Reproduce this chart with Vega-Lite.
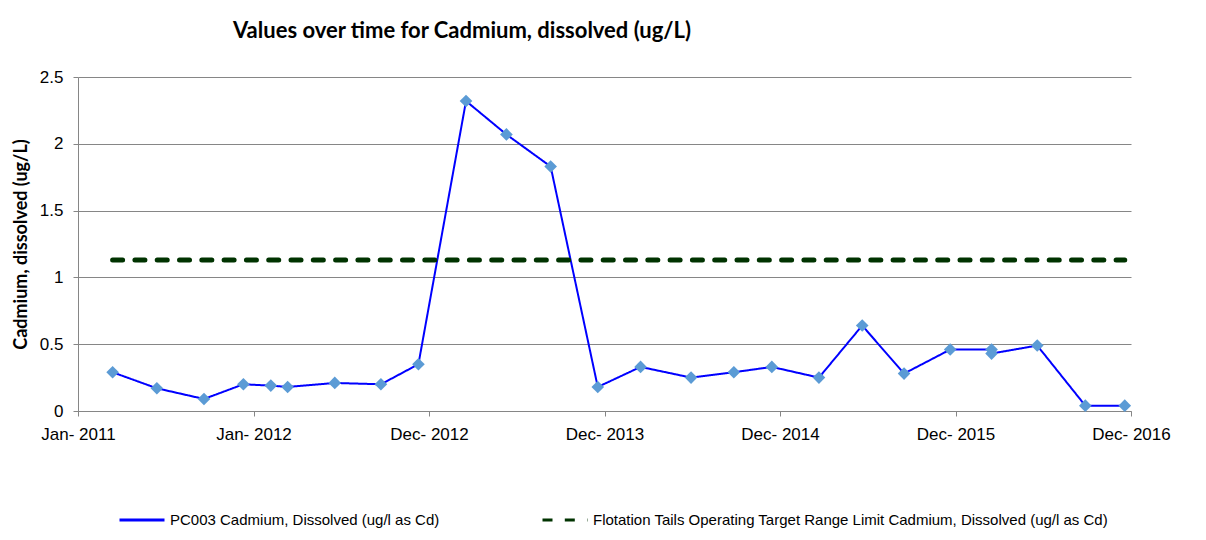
{
  "$schema": "https://vega.github.io/schema/vega-lite/v6.json",
  "width": 1053,
  "height": 334,
  "autosize": "none",
  "padding": {"left": 78, "top": 77, "right": 75, "bottom": 129},
  "background": "white",
  "title": {
    "text": "Values over time for Cadmium, dissolved (ug/L)",
    "font": "Lato",
    "fontSize": 22,
    "fontWeight": "bold",
    "color": "black",
    "anchor": "start",
    "frame": "group",
    "dx": 155,
    "offset": 25
  },
  "data": {
    "values": [
      {"date": "2011-03-14", "pc003": 0.29, "limit": 1.13},
      {"date": "2011-06-14", "pc003": 0.17, "limit": 1.13},
      {"date": "2011-09-20", "pc003": 0.09, "limit": 1.13},
      {"date": "2011-12-11", "pc003": 0.2, "limit": 1.13},
      {"date": "2012-02-06", "pc003": 0.19, "limit": 1.13},
      {"date": "2012-03-12", "pc003": 0.18, "limit": 1.13},
      {"date": "2012-06-18", "pc003": 0.21, "limit": 1.13},
      {"date": "2012-09-22", "pc003": 0.2, "limit": 1.13},
      {"date": "2012-12-09", "pc003": 0.35, "limit": 1.13},
      {"date": "2013-03-18", "pc003": 2.32, "limit": 1.13},
      {"date": "2013-06-10", "pc003": 2.07, "limit": 1.13},
      {"date": "2013-09-10", "pc003": 1.83, "limit": 1.13},
      {"date": "2013-12-17", "pc003": 0.18, "limit": 1.13},
      {"date": "2014-03-16", "pc003": 0.33, "limit": 1.13},
      {"date": "2014-06-29", "pc003": 0.25, "limit": 1.13},
      {"date": "2014-09-26", "pc003": 0.29, "limit": 1.13},
      {"date": "2014-12-14", "pc003": 0.33, "limit": 1.13},
      {"date": "2015-03-22", "pc003": 0.25, "limit": 1.13},
      {"date": "2015-06-20", "pc003": 0.64, "limit": 1.13},
      {"date": "2015-09-15", "pc003": 0.28, "limit": 1.13},
      {"date": "2015-12-20", "pc003": 0.46, "limit": 1.13},
      {"date": "2016-03-15", "pc003": 0.46, "limit": 1.13},
      {"date": "2016-03-15", "pc003": 0.43, "limit": 1.13},
      {"date": "2016-06-18", "pc003": 0.49, "limit": 1.13},
      {"date": "2016-09-26", "pc003": 0.04, "limit": 1.13},
      {"date": "2016-12-17", "pc003": 0.04, "limit": 1.13}
    ]
  },
  "encoding": {
    "x": {
      "field": "date",
      "type": "temporal",
      "scale": {
        "type": "utc",
        "nice": false,
        "domain": [
          {"year": 2011, "month": 1, "date": 1, "utc": true},
          {"year": 2016, "month": 12, "date": 30, "utc": true}
        ]
      },
      "axis": {
        "title": null,
        "grid": false,
        "format": "%b- %Y",
        "values": [
          {"year": 2011, "month": 1, "date": 1, "utc": true},
          {"year": 2012, "month": 1, "date": 1, "utc": true},
          {"year": 2012, "month": 12, "date": 31, "utc": true},
          {"year": 2013, "month": 12, "date": 31, "utc": true},
          {"year": 2014, "month": 12, "date": 31, "utc": true},
          {"year": 2015, "month": 12, "date": 31, "utc": true},
          {"year": 2016, "month": 12, "date": 30, "utc": true}
        ],
        "labelFont": "Liberation Sans",
        "labelFontSize": 17,
        "labelColor": "black",
        "labelPadding": 10,
        "labelOverlap": false,
        "labelFlush": false,
        "tickSize": 5,
        "tickColor": "#868686",
        "domainColor": "#868686"
      }
    }
  },
  "layer": [
    {
      "mark": {"type": "line", "strokeWidth": 2, "strokeCap": "round"},
      "encoding": {
        "y": {
          "field": "pc003",
          "type": "quantitative",
          "scale": {"domain": [0, 2.5], "nice": false},
          "axis": {
            "title": "Cadmium, dissolved (ug/L)",
            "titleFont": "Lato",
            "titleFontSize": 18,
            "titleFontWeight": "bold",
            "titleColor": "black",
            "titlePadding": 9,
            "values": [0, 0.5, 1, 1.5, 2, 2.5],
            "format": "~g",
            "labelFont": "Liberation Sans",
            "labelFontSize": 17,
            "labelColor": "black",
            "labelPadding": 10,
            "tickSize": 5,
            "tickColor": "#868686",
            "domainColor": "#868686",
            "grid": true,
            "gridColor": "#868686",
            "gridOpacity": 1
          }
        },
        "color": {
          "datum": "PC003 Cadmium, Dissolved (ug/l as Cd)",
          "scale": {
            "domain": [
              "PC003 Cadmium, Dissolved (ug/l as Cd)",
              "Flotation Tails Operating Target Range Limit Cadmium, Dissolved (ug/l as Cd)"
            ],
            "range": ["#0000ff", "#003300"]
          },
          "legend": {
            "orient": "none",
            "legendX": 40,
            "legendY": 419,
            "direction": "horizontal",
            "columns": 2,
            "title": null,
            "symbolSize": 2025,
            "symbolStrokeWidth": 3,
            "labelFont": "Liberation Sans",
            "labelFontSize": 15,
            "labelColor": "black",
            "labelOffset": 4,
            "labelLimit": 0,
            "columnPadding": 96
          }
        },
        "strokeDash": {
          "datum": "PC003 Cadmium, Dissolved (ug/l as Cd)",
          "scale": {
            "domain": [
              "PC003 Cadmium, Dissolved (ug/l as Cd)",
              "Flotation Tails Operating Target Range Limit Cadmium, Dissolved (ug/l as Cd)"
            ],
            "range": [[1, 0], [10, 12.3]]
          }
        }
      }
    },
    {
      "mark": {"type": "point", "shape": "diamond", "filled": true, "fill": "#5b9bd5", "size": 160, "opacity": 1, "strokeWidth": 0},
      "encoding": {
        "y": {"field": "pc003", "type": "quantitative"}
      }
    },
    {
      "mark": {"type": "line", "strokeWidth": 5, "strokeCap": "round"},
      "encoding": {
        "y": {"field": "limit", "type": "quantitative"},
        "color": {"datum": "Flotation Tails Operating Target Range Limit Cadmium, Dissolved (ug/l as Cd)"},
        "strokeDash": {"datum": "Flotation Tails Operating Target Range Limit Cadmium, Dissolved (ug/l as Cd)"}
      }
    }
  ],
  "config": {
    "view": {"stroke": null}
  }
}
